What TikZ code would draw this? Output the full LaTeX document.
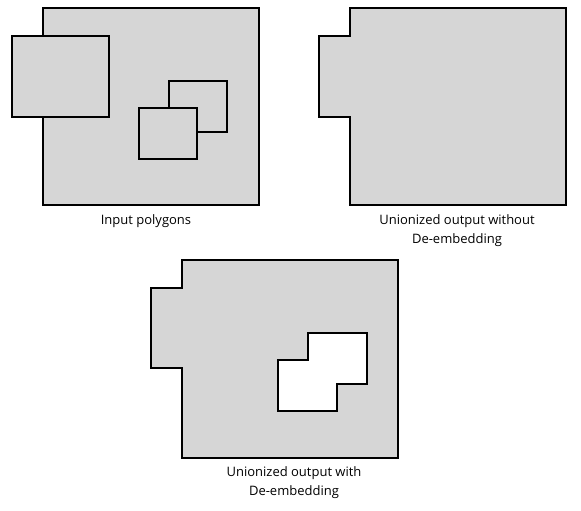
\documentclass[tikz,border=0pt]{standalone}
\usepackage{fontspec}
\setmainfont{Open Sans}
\usetikzlibrary{calc}
\definecolor{polygray}{RGB}{214,214,214}

\begin{document}
\begin{tikzpicture}[x=1pt,y=-1pt,
  poly/.style={draw=black,line width=2pt,fill=polygray,line join=miter},
  hole/.style={draw=black,line width=2pt,fill=white,line join=miter},
  caption/.style={font=\fontsize{13}{19}\selectfont,align=center}]
\useasboundingbox (0,0) rectangle (581,511);
% input polygons
\coordinate (A) at (43,8);
\coordinate (B) at (259,205);
\draw[poly] (A) rectangle (B);
\draw[poly] (11.5,36) rectangle (109,116.5);
\draw[poly] (169,81) rectangle (227,131.5);
\draw[poly] (139,108) rectangle (197,158.5);
\node[caption] (in) at (146,221.5) {Input polygons};
% output without de-embedding
\coordinate (C) at (349.5,8);
\coordinate (D) at (566,205);
\draw[poly] (C) -- (C-|D) -- (D) -- (D-|C) -- (349.5,116.5) -- (318.5,116.5)
  -- (318.5,36) -- (349.5,36) -- cycle;
\node[caption] (outa) at (457,230.5) {Unionized output without\\De-embedding};
% output with de-embedding
\coordinate (E) at (181.5,260);
\coordinate (F) at (398,457.5);
\draw[poly] (E) -- (E-|F) -- (F) -- (F-|E) -- (181.5,367.5) -- (151,367.5)
  -- (151,288) -- (181.5,288) -- cycle;
\draw[hole] (307.5,333) -- (366.5,333) -- (366.5,384) -- (336.5,384)
  -- (336.5,410.5) -- (277.5,410.5) -- (277.5,360) -- (307.5,360) -- cycle;
\node[caption] (outb) at (294,482.5) {Unionized output with\\De-embedding};
\end{tikzpicture}
\end{document}
